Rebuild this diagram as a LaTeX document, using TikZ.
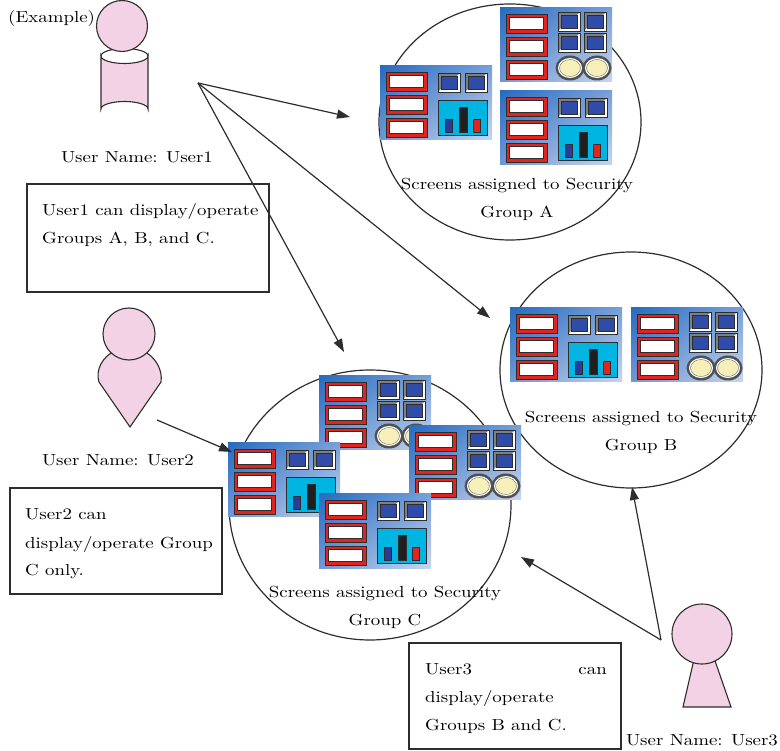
\documentclass[tikz,border=0pt]{standalone}
\usepackage{fontspec}
\setmainfont{lmroman10-regular.otf}[FakeStretch=1.18]
\usetikzlibrary{arrows.meta,shadings}

\definecolor{figpink}{RGB}{242,210,228}
\definecolor{edge}{RGB}{45,45,45}
\definecolor{slotred}{RGB}{226,36,32}
\definecolor{bevel}{RGB}{128,128,128}
\definecolor{keyblue}{RGB}{46,76,168}
\definecolor{chartcyan}{RGB}{0,181,226}
\definecolor{barblue}{RGB}{42,58,150}
\definecolor{dialring}{RGB}{80,80,80}
\definecolor{dialface}{RGB}{246,240,184}
\definecolor{bgdark}{RGB}{38,108,192}
\definecolor{bgmidA}{RGB}{120,160,218}
\definecolor{bgmidB}{RGB}{110,152,212}
\definecolor{bglight}{RGB}{200,214,238}

\tikzset{
  txt/.style={inner sep=0pt, font=\fontsize{16}{28}\selectfont},
  figure/.style={fill=figpink, draw=edge, line width=1.1pt},
  infobox/.style={draw=edge, line width=1.1pt, inner sep=0pt},
  groupring/.style={draw=edge, line width=1.2pt},
  link/.style={draw=edge, line width=1.2pt, -{Triangle[length=13pt,width=9pt]}},
  % one red input slot
  redslot/.pic={
    \filldraw[fill=slotred, draw=edge, line width=0.8pt] (0,0) rectangle (41,19);
    \filldraw[fill=white, draw=edge, line width=0.5pt] (3.6,3.4) rectangle (37.4,15.6);
  },
  % one bevelled blue key
  keysq/.pic={
    \fill[bevel] (0,0) rectangle (22,19);
    \fill[white] (22,0) -- (22,19) -- (0,19) -- (3,16) -- (19,16) -- (19,3) -- cycle;
    \draw[edge, line width=0.8pt] (0,0) rectangle (22,19);
    \filldraw[fill=keyblue, draw=edge, line width=0.5pt] (3,3) rectangle (19,16);
  },
  % one round lamp
  lamp/.pic={
    \fill[dialring] (0,0) ellipse [x radius=14.5, y radius=12.5];
    \fill[white] (0,0) ellipse [x radius=12, y radius=10];
    \filldraw[fill=dialface, draw=gray, line width=0.5pt] (0,0) ellipse [x radius=10.5, y radius=8.5];
  },
  % panel background with the three slots
  panelbase/.pic={
    \shade[upper left=bgdark, upper right=bgmidA, lower left=bgmidB, lower right=bglight]
      (0,0) rectangle (112,74);
    \pic at (6,6) {redslot};
    \pic at (6,29) {redslot};
    \pic at (6,52) {redslot};
  },
  % screen with a bar chart
  chartscreen/.pic={
    \pic at (0,0) {panelbase};
    \pic at (58,7) {keysq};
    \pic at (85,7) {keysq};
    \filldraw[fill=chartcyan, draw=edge, line width=0.8pt] (58,34) rectangle (107,69);
    \filldraw[fill=barblue, draw=edge, line width=0.6pt] (65,53) rectangle (72,66);
    \filldraw[fill=black!88, draw=edge, line width=0.6pt] (79,41) rectangle (87,66);
    \filldraw[fill=slotred, draw=edge, line width=0.6pt] (93,53) rectangle (100,66);
  },
  % screen with four keys and two lamps
  lampscreen/.pic={
    \pic at (0,0) {panelbase};
    \pic at (58,4) {keysq};
    \pic at (84,4) {keysq};
    \pic at (58,25) {keysq};
    \pic at (84,25) {keysq};
    \pic at (70,60) {lamp};
    \pic at (97,60) {lamp};
  },
}

\begin{document}
\begin{tikzpicture}[x=1pt, y=-1pt]
\useasboundingbox (0,0) rectangle (780,751);

% security group rings
\draw[groupring] (510,122) ellipse [x radius=131, y radius=118];
\draw[groupring] (631,370) ellipse [x radius=131, y radius=118];
\draw[groupring] (370,505) ellipse [x radius=141, y radius=135];

% screens of group A
\pic at (380,66) {chartscreen};
\pic at (500,8) {lampscreen};
\pic at (500,91) {chartscreen};
% screens of group B
\pic at (510,308) {chartscreen};
\pic at (631,308) {lampscreen};
% screens of group C
\pic at (319,376) {lampscreen};
\pic at (228,443) {chartscreen};
\pic at (409,426) {lampscreen};
\pic at (319,494) {chartscreen};

% group captions
\node[txt, anchor=base] (capA1) at (517,190) {Screens assigned to Security};
\node[txt, anchor=base] (capA2) at (517,218) {Group A};
\node[txt, anchor=base] (capB1) at (641,423) {Screens assigned to Security};
\node[txt, anchor=base] (capB2) at (641,451) {Group B};
\node[txt, anchor=base] (capC1) at (385,597) {Screens assigned to Security};
\node[txt, anchor=base] (capC2) at (385,625) {Group C};

% User1: cylinder body and head
\path[figure] (101,56) -- (101,109) arc [start angle=180, end angle=360, x radius=23.5, y radius=7.5]
  -- (148,56) arc [start angle=0, end angle=180, x radius=23.5, y radius=7.5] -- cycle;
\draw[edge, line width=1.1pt] (101,56) arc [start angle=180, end angle=360, x radius=23.5, y radius=7.5];
\path[figure] (122,26) circle [radius=25.5];

% User2: drop-shaped body and head
\path[figure] (130,427) -- (99,382) .. controls (95,370) and (103,356) .. (115,351)
  -- (143,351) .. controls (155,356) and (163,370) .. (161,382) -- cycle;
\path[figure] (129,334) circle [radius=26];

% User3: keyhole body and head
\path[figure] (695,655) -- (713,655) -- (731,707) -- (683,707) -- cycle;
\path[figure] (702,634) circle [radius=30];

% captions and notes
\node[txt, anchor=base west] (example) at (8,23) {(Example)};
\node[txt, anchor=base] (name1) at (137,163) {User Name: User1};
\node[txt, anchor=base] (name2) at (118,466) {User Name: User2};
\node[txt, anchor=base] (name3) at (702,745) {User Name: User3};

\node[infobox, minimum width=242, minimum height=108] (note1) at (148,238) {};
\node[txt, anchor=base west] (note1a) at (42,216) {User1 can display/operate};
\node[txt, anchor=base west] (note1b) at (42,244) {Groups A, B, and C.};

\node[infobox, minimum width=212, minimum height=106] (note2) at (116,541) {};
\node[txt, anchor=base west] (note2a) at (25,520) {User2 can};
\node[txt, anchor=base west] (note2b) at (25,548) {display/operate Group};
\node[txt, anchor=base west] (note2c) at (25,576) {C only.};

\node[infobox, minimum width=212, minimum height=106] (note3) at (515,696) {};
\node[txt, anchor=base west] (note3a) at (425,674) {User3};
\node[txt, anchor=base east] (note3b) at (607,674) {can};
\node[txt, anchor=base west] (note3c) at (425,702) {display/operate};
\node[txt, anchor=base west] (note3d) at (425,730) {Groups B and C.};

% access arrows
\coordinate (u1) at (198,83);
\coordinate (u2) at (157,420);
\coordinate (u3) at (661,640);
\coordinate (inA) at (350,117);
\coordinate (inB1) at (490,318);
\coordinate (inC1) at (344,352);
\coordinate (inC2) at (232,452);
\coordinate (inB3) at (632,487);
\coordinate (inC3) at (521,557);

\draw[link] (u1) -- (inA);
\draw[link] (u1) -- (inB1);
\draw[link] (u1) -- (inC1);
\draw[link] (u2) -- (inC2);
\draw[link] (u3) -- (inB3);
\draw[link] (u3) -- (inC3);
\end{tikzpicture}
\end{document}
